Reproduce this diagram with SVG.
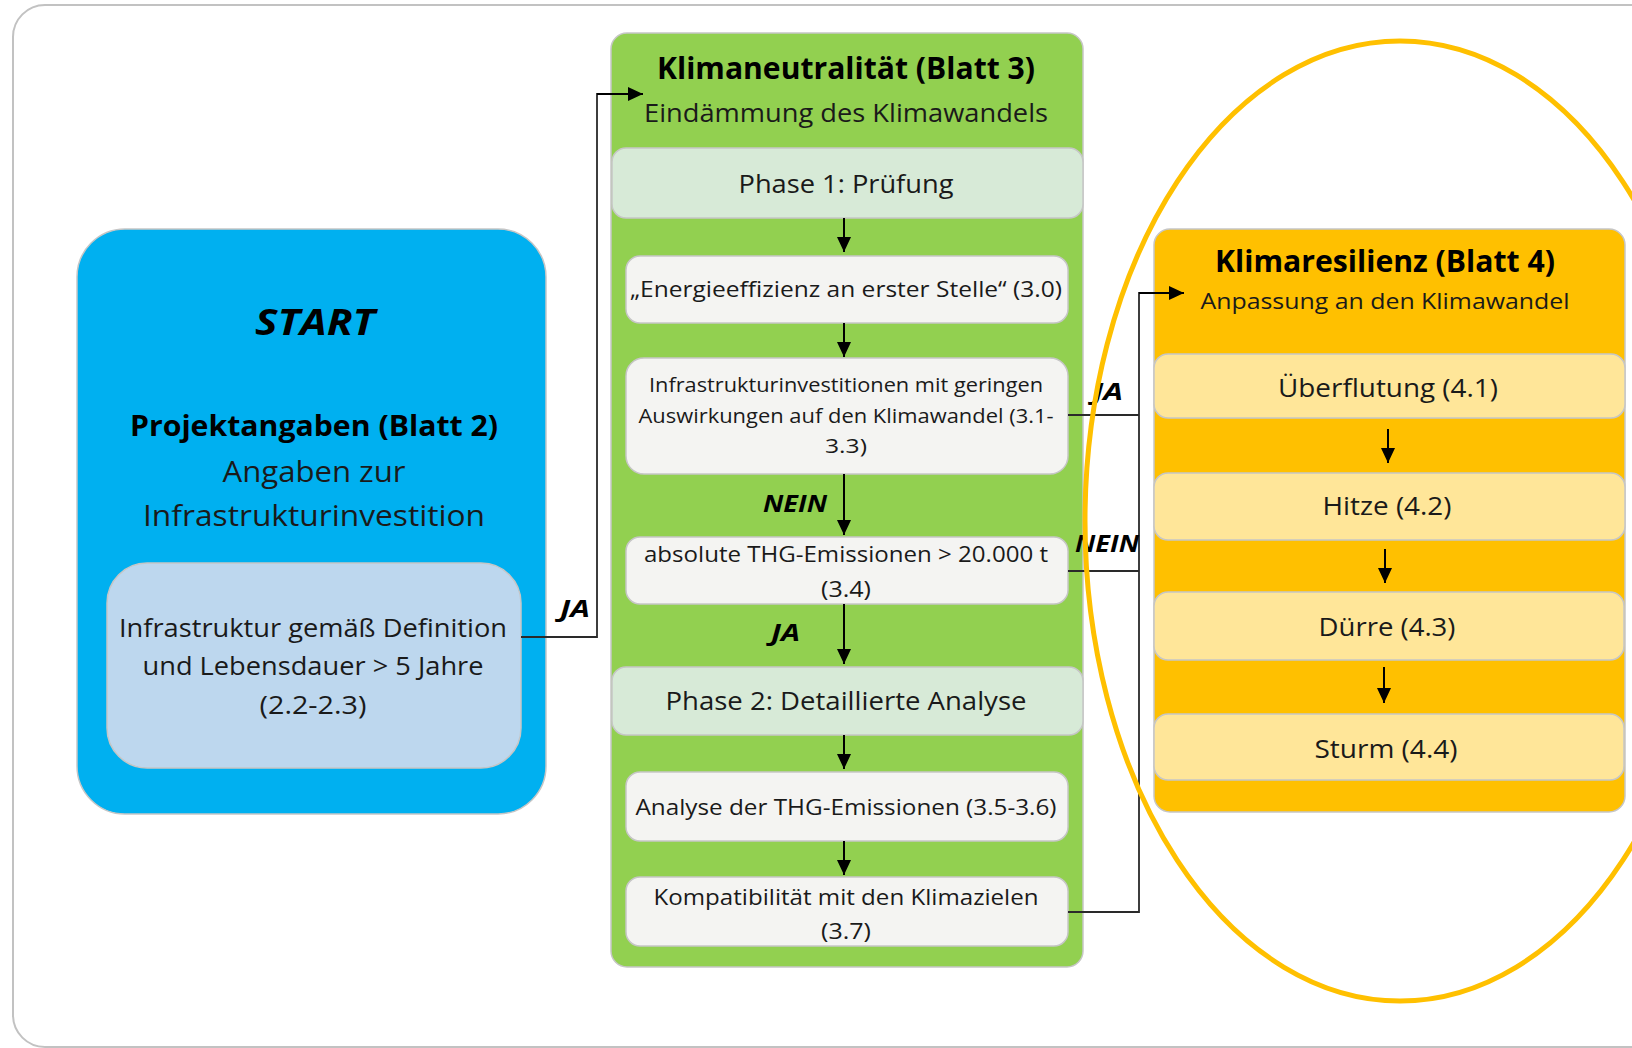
<svg xmlns="http://www.w3.org/2000/svg" width="1632" height="1048" viewBox="0 0 1632 1048">
<defs>
<marker id="ah" markerUnits="userSpaceOnUse" markerWidth="16" markerHeight="14" refX="15" refY="7" orient="auto">
<path d="M0,0 L15,7 L0,14 z" fill="#000"/>
</marker>
<style>
.t{font-family:"Open Sans","Liberation Sans",sans-serif;fill:#1a1a1a;text-anchor:middle}
.b{font-weight:bold;fill:#000}
.bi{font-family:"Open Sans","Liberation Sans",sans-serif;font-weight:bold;font-style:italic;fill:#000}
.box{stroke:#c6c6c6;stroke-width:1.5}
.wh{fill:#f4f4f2}
.ph{fill:#d7ead7}
.ye{fill:#ffe699}
.ln{fill:none;stroke:#2a2a2a;stroke-width:1.8}
.ar{fill:none;stroke:#000;stroke-width:2;marker-end:url(#ah)}
</style>
</defs>
<rect x="13" y="5" width="1660" height="1042" rx="32" fill="#fff" stroke="#c2c2c2" stroke-width="2"/>

<g id="start">
<rect class="box" x="77" y="229" width="469" height="585" rx="48" fill="#00b0f0"/>
<text class="bi" x="315" y="335" font-size="35" text-anchor="middle" textLength="120" lengthAdjust="spacingAndGlyphs">START</text>
<text class="t b" x="314" y="436" font-size="29" textLength="368" lengthAdjust="spacingAndGlyphs">Projektangaben (Blatt 2)</text>
<text class="t" x="314" y="482" font-size="29" textLength="183" lengthAdjust="spacingAndGlyphs">Angaben zur</text>
<text class="t" x="314" y="526" font-size="29" textLength="342" lengthAdjust="spacingAndGlyphs">Infrastrukturinvestition</text>
</g>
<g id="infra-def">
<rect class="box" x="107" y="563" width="414" height="205" rx="40" fill="#bdd7ee"/>
<text class="t" x="313" y="637" font-size="25" textLength="388" lengthAdjust="spacingAndGlyphs">Infrastruktur gemäß Definition</text>
<text class="t" x="313" y="675" font-size="25" textLength="341" lengthAdjust="spacingAndGlyphs">und Lebensdauer &gt; 5 Jahre</text>
<text class="t" x="313" y="714" font-size="25" textLength="107" lengthAdjust="spacingAndGlyphs">(2.2-2.3)</text>
</g>

<g id="klimaneutralitaet">
<rect class="box" x="611" y="33" width="472" height="934" rx="16" fill="#92d050"/>
<text class="t b" x="846" y="79" font-size="31" textLength="378" lengthAdjust="spacingAndGlyphs">Klimaneutralität (Blatt 3)</text>
<text class="t" x="846" y="122" font-size="25" textLength="404" lengthAdjust="spacingAndGlyphs">Eindämmung des Klimawandels</text>
</g>
<g id="phase1">
<rect class="box ph" x="612" y="148" width="471" height="70" rx="14"/>
<text class="t" x="846" y="193" font-size="25" textLength="215" lengthAdjust="spacingAndGlyphs">Phase 1: Prüfung</text>
</g>
<g id="n30">
<rect class="box wh" x="626" y="256" width="442" height="67" rx="14"/>
<text class="t" x="846" y="297" font-size="21.5" textLength="432" lengthAdjust="spacingAndGlyphs">„Energieeffizienz an erster Stelle“ (3.0)</text>
</g>
<g id="n31">
<rect class="box wh" x="626" y="358" width="442" height="116" rx="18"/>
<text class="t" x="846" y="392" font-size="19.5" textLength="394" lengthAdjust="spacingAndGlyphs">Infrastrukturinvestitionen mit geringen</text>
<text class="t" x="846" y="423" font-size="19.5" textLength="415" lengthAdjust="spacingAndGlyphs">Auswirkungen auf den Klimawandel (3.1-</text>
<text class="t" x="846" y="453" font-size="19.5" textLength="42" lengthAdjust="spacingAndGlyphs">3.3)</text>
</g>
<g id="n34">
<rect class="box wh" x="626" y="537" width="442" height="67" rx="14"/>
<text class="t" x="846" y="562" font-size="21" textLength="404" lengthAdjust="spacingAndGlyphs">absolute THG-Emissionen &gt; 20.000 t</text>
<text class="t" x="846" y="597" font-size="21" textLength="50" lengthAdjust="spacingAndGlyphs">(3.4)</text>
</g>
<g id="phase2">
<rect class="box ph" x="612" y="667" width="471" height="68" rx="14"/>
<text class="t" x="846" y="710" font-size="25" textLength="361" lengthAdjust="spacingAndGlyphs">Phase 2: Detaillierte Analyse</text>
</g>
<g id="n35">
<rect class="box wh" x="626" y="772" width="442" height="69" rx="14"/>
<text class="t" x="846" y="815" font-size="21" textLength="421" lengthAdjust="spacingAndGlyphs">Analyse der THG-Emissionen (3.5-3.6)</text>
</g>
<g id="n37">
<rect class="box wh" x="626" y="877" width="442" height="69" rx="14"/>
<text class="t" x="846" y="905" font-size="21" textLength="385" lengthAdjust="spacingAndGlyphs">Kompatibilität mit den Klimazielen</text>
<text class="t" x="846" y="939" font-size="21" textLength="50" lengthAdjust="spacingAndGlyphs">(3.7)</text>
</g>

<g id="klimaresilienz">
<rect class="box" x="1154" y="229" width="471" height="583" rx="16" fill="#ffc000"/>
<text class="t b" x="1385" y="272" font-size="30" textLength="340" lengthAdjust="spacingAndGlyphs">Klimaresilienz (Blatt 4)</text>
<text class="t" x="1385" y="309" font-size="22.5" textLength="369" lengthAdjust="spacingAndGlyphs">Anpassung an den Klimawandel</text>
</g>
<g id="n41">
<rect class="box ye" x="1154" y="354" width="471" height="64" rx="14"/>
<text class="t" x="1388" y="397" font-size="25" textLength="220" lengthAdjust="spacingAndGlyphs">Überflutung (4.1)</text>
</g>
<g id="n42">
<rect class="box ye" x="1154" y="473" width="471" height="67" rx="14"/>
<text class="t" x="1387" y="515" font-size="25" textLength="129" lengthAdjust="spacingAndGlyphs">Hitze (4.2)</text>
</g>
<g id="n43">
<rect class="box ye" x="1154" y="592" width="470" height="68" rx="14"/>
<text class="t" x="1387" y="636" font-size="25" textLength="137" lengthAdjust="spacingAndGlyphs">Dürre (4.3)</text>
</g>
<g id="n44">
<rect class="box ye" x="1154" y="714" width="470" height="66" rx="14"/>
<text class="t" x="1386" y="758" font-size="25" textLength="143" lengthAdjust="spacingAndGlyphs">Sturm (4.4)</text>
</g>

<g id="connectors">
<path class="ar" d="M844,218 V252"/>
<path class="ar" d="M844,323 V357"/>
<path class="ar" d="M844,474 V535"/>
<path class="ar" d="M844,604 V664"/>
<path class="ar" d="M844,735 V769"/>
<path class="ar" d="M844,841 V875"/>
<path class="ar" d="M1388,429 V463"/>
<path class="ar" d="M1385,549 V583"/>
<path class="ar" d="M1384,667 V703"/>
<path class="ln" d="M521,637 H597 V94 H629"/>
<path class="ar" d="M597,94 H643"/>
<path class="ln" d="M1068,415 H1139"/>
<path class="ln" d="M1068,571 H1139"/>
<path class="ln" d="M1068,912 H1139 V293 H1170"/>
<path class="ar" d="M1139,293 H1184"/>
<text class="bi" x="560" y="617" font-size="23" textLength="30" lengthAdjust="spacingAndGlyphs">JA</text>
<text class="bi" x="763" y="512" font-size="23" textLength="64" lengthAdjust="spacingAndGlyphs">NEIN</text>
<text class="bi" x="771" y="641" font-size="23" textLength="29" lengthAdjust="spacingAndGlyphs">JA</text>
<text class="bi" x="1093" y="400" font-size="23" textLength="30" lengthAdjust="spacingAndGlyphs">JA</text>
<text class="bi" x="1075" y="552" font-size="23" textLength="64" lengthAdjust="spacingAndGlyphs">NEIN</text>
</g>

<ellipse id="highlight" cx="1400" cy="521" rx="315" ry="480" fill="none" stroke="#ffc000" stroke-width="5"/>
</svg>
